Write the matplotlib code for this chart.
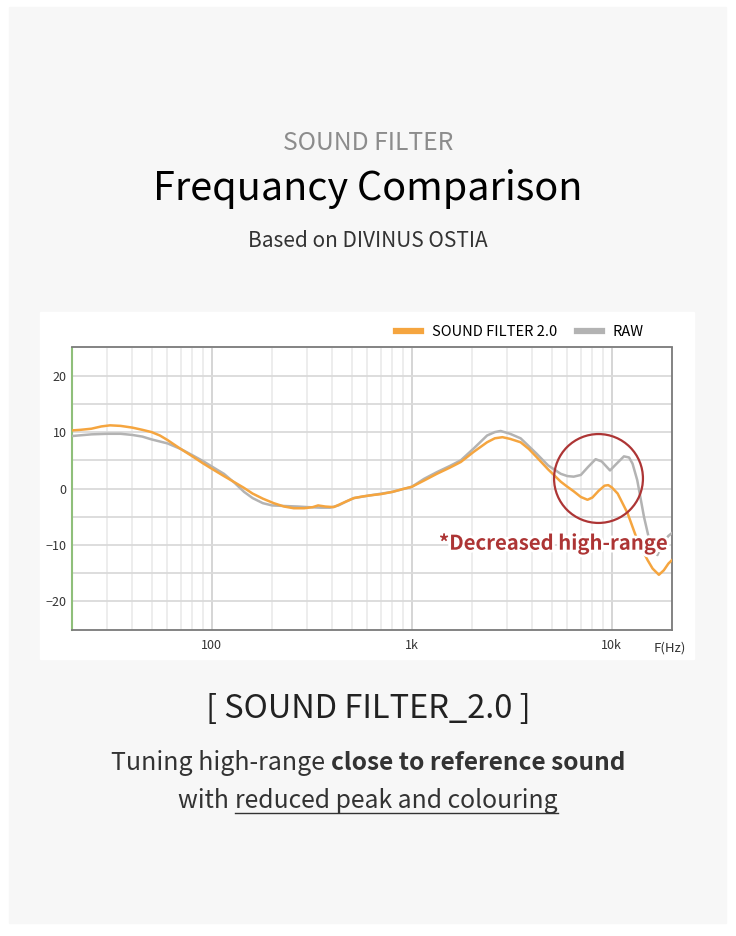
import matplotlib
matplotlib.use("Agg")
import matplotlib.pyplot as plt
import matplotlib.patheffects as pe
from matplotlib.patches import Rectangle
from matplotlib.lines import Line2D
from matplotlib.ticker import FixedLocator, NullFormatter

plt.rcParams['font.family'] = ['Noto Sans CJK KR', 'DejaVu Sans']

# --- data ---
freq_filter = [20, 22, 25, 28, 31, 35, 40, 45, 50, 55, 60, 70, 80, 90, 100, 115,
               130, 145, 160, 180, 204, 230, 257, 290, 320, 340, 370, 407, 450,
               513, 570, 624, 700, 800, 900, 1000, 1150, 1334, 1550, 1758, 2040,
               2380, 2600, 2840, 3100, 3500, 3850, 4200, 4800, 5560, 6000, 6450,
               7000, 7560, 8000, 8600, 9200, 9600, 10000, 10700, 12000, 13400,
               15100, 16000, 17200, 18200, 19200, 20000]
db_filter = [10.3, 10.4, 10.6, 11.0, 11.2, 11.1, 10.8, 10.4, 10.0, 9.4, 8.6, 7.0,
             5.7, 4.5, 3.5, 2.2, 1.1, 0.1, -0.9, -1.8, -2.6, -3.2, -3.5, -3.5,
             -3.3, -3.0, -3.2, -3.3, -2.6, -1.7, -1.4, -1.2, -1.0, -0.6, -0.1,
             0.3, 1.4, 2.6, 3.7, 4.7, 6.5, 8.2, 8.9, 9.1, 8.8, 8.2, 7.0, 5.6,
             3.4, 1.2, 0.3, -0.5, -1.5, -2.0, -1.6, -0.4, 0.5, 0.6, 0.2, -0.9,
             -4.4, -9.1, -12.7, -14.2, -15.3, -14.5, -13.3, -12.7]

freq_raw = [20, 25, 30, 35, 40, 45, 50, 60, 70, 80, 90, 100, 115, 130, 145, 160,
            180, 200, 230, 270, 302, 350, 390, 430, 470, 513, 624, 800, 1000,
            1150, 1334, 1550, 1758, 2040, 2380, 2600, 2780, 3100, 3500, 4200,
            4800, 5560, 6000, 6450, 7000, 7600, 8300, 8900, 9800, 10500, 11500,
            12200, 12700, 13400, 14500, 15700, 16900, 18200, 19200, 20000]
db_raw = [9.3, 9.6, 9.7, 9.7, 9.5, 9.2, 8.7, 8.0, 7.0, 5.9, 4.9, 3.9, 2.6, 1.0,
          -0.6, -1.7, -2.6, -3.0, -3.1, -3.2, -3.3, -3.4, -3.4, -3.0, -2.3, -1.7,
          -1.2, -0.6, 0.3, 1.7, 2.9, 4.0, 5.0, 7.1, 9.4, 10.0, 10.2, 9.7, 8.9,
          6.2, 4.1, 2.6, 2.2, 2.1, 2.4, 3.8, 5.2, 4.8, 3.2, 4.3, 5.7, 5.5, 4.4,
          1.5, -5.1, -10.4, -11.8, -9.4, -8.4, -7.9]

series_labels = ["SOUND FILTER 2.0", "RAW"]
x_ticks = [100, 1000, 10000]
x_ticklabels = ["100", "1k", "10k"]
y_ticks = [-20, -10, 0, 10, 20]

orange = "#f5a53f"
gray = "#b3b3b3"
red = "#ad3535"

W, H = 736, 936
fig = plt.figure(figsize=(W / 100, H / 100), dpi=100)
fig.patch.set_facecolor("white")

def px(x0, y0, w, h):
    # pixel box (top-left origin) -> figure fraction
    return [x0 / W, 1 - (y0 + h) / H, w / W, h / H]

# gray page panel and white chart panel
fig.patches.append(Rectangle((9 / W, 1 - 923 / H), 717 / W, 916 / H,
                             transform=fig.transFigure, color="#f7f7f7", zorder=-2))
fig.patches.append(Rectangle((40 / W, 1 - 659 / H), 654 / W, 347 / H,
                             transform=fig.transFigure, color="white", zorder=-1))

ax = fig.add_axes(px(72, 347.5, 600, 282))
ax.set_zorder(2)
ax.set_xscale("log")
ax.set_xlim(20, 20000)
ax.set_ylim(-25, 25)

# grid
minor_x = [m * 10 ** d for d in range(1, 5) for m in range(2, 10) if 20 <= m * 10 ** d <= 20000]
ax.xaxis.set_major_locator(FixedLocator(x_ticks))
ax.xaxis.set_minor_locator(FixedLocator(minor_x))
ax.xaxis.set_minor_formatter(NullFormatter())
ax.set_xticklabels(x_ticklabels)
ax.yaxis.set_major_locator(FixedLocator(y_ticks))
ax.yaxis.set_minor_locator(FixedLocator([-15, -5, 5, 15]))
ax.set_yticklabels(["\u221220", "\u221210", "0", "10", "20"])
ax.grid(True, which="major", axis="x", color="#d2d2d2", lw=1.3)
ax.grid(True, which="minor", axis="x", color="#e8e8e8", lw=1.1)
ax.grid(True, which="both", axis="y", color="#dadada", lw=1.3)
ax.tick_params(which="both", length=0, labelsize=9, colors="#333333", pad=4)
ax.tick_params(axis="x", pad=7)
ax.set_axisbelow(True)

for s in ["top", "right", "bottom"]:
    ax.spines[s].set_color("#7a7a7a")
    ax.spines[s].set_linewidth(1.3)
ax.spines["left"].set_color("#8fbf7a")
ax.spines["left"].set_linewidth(1.5)

ax.plot(freq_raw, db_raw, color=gray, lw=1.8, zorder=3, solid_joinstyle="round")
ax.plot(freq_filter, db_filter, color=orange, lw=1.8, zorder=4, solid_joinstyle="round")

# highlight circle around the high-range dip
ax.plot([8530], [1.8], marker="o", ms=64, mfc="none", mec=red, mew=1.6, zorder=5)
ax.text(5100, -9.7, "*Decreased high-range", color=red, fontsize=14.6, fontweight="bold",
        ha="center", va="center", zorder=6,
        path_effects=[pe.withStroke(linewidth=4, foreground="white")])

fig.text(686 / W, 1 - 648 / H, "F(Hz)", fontsize=9.5, color="#333333",
         ha="right", va="center", zorder=3)

handles = [Line2D([], [], color=orange, lw=4.5), Line2D([], [], color=gray, lw=4.5)]
fig.legend(handles, series_labels, loc="center right", ncol=2, frameon=False,
           bbox_to_anchor=(644 / W, 1 - 332 / H), bbox_transform=fig.transFigure,
           fontsize=10.5, handlelength=1.75, handletextpad=0.75, columnspacing=1.3,
           borderpad=0, borderaxespad=0)

# headings
cx = 368 / W
fig.text(cx, 1 - 143 / H, "SOUND FILTER", fontsize=17.8, color="#8c8c8c", ha="center", va="center")
fig.text(cx, 1 - 189 / H, "Frequancy Comparison", fontsize=28.5, color="black", ha="center", va="center")
fig.text(cx, 1 - 241 / H, "Based on DIVINUS OSTIA", fontsize=15, color="#333333", ha="center", va="center")
fig.text(cx, 1 - 709 / H, "[ SOUND FILTER_2.0 ]", fontsize=23.5, color="#222222", ha="center", va="center")

# mixed-weight caption lines
renderer = fig.canvas.get_renderer()

def caption_line(parts, y, underline_from=None):
    texts = [fig.text(0, 1 - y / H, s, fontsize=sz, color="#333333", fontweight=w,
                      ha="left", va="center") for s, w, sz in parts]
    widths = [t.get_window_extent(renderer).width for t in texts]
    x = cx * W - sum(widths) / 2
    for i, (t, wd) in enumerate(zip(texts, widths)):
        t.set_x(x / W)
        if underline_from is not None and i >= underline_from:
            fig.add_artist(Line2D([x / W, (x + wd) / W], [1 - (y + 12) / H] * 2,
                                  transform=fig.transFigure, color="#333333", lw=1))
        x += wd

caption_line([("Tuning high-range ", "normal", 18), ("close to reference sound", "bold", 17.6)], 763)
caption_line([("with ", "normal", 17.8), ("reduced peak and colouring", "normal", 17.8)], 801,
             underline_from=1)

fig.savefig("out.png", dpi=100, facecolor="white")
